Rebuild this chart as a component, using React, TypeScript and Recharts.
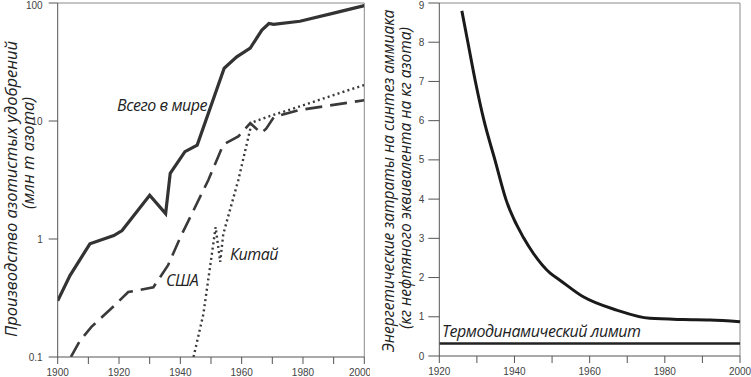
import { LineChart, Line, XAxis, YAxis, ReferenceLine } from 'recharts'

// Left panel: nitrogen fertilizer production, Mt N (log scale)
const WORLD_YEARS = [1900, 1904, 1910.5, 1918.3, 1921, 1930, 1935.2, 1936.7, 1941.5, 1945.5, 1954.3, 1958.4, 1962.8, 1966.6, 1968.9, 1970.4, 1979, 1990, 2000]
const WORLD_VALUES = [0.3, 0.49, 0.91, 1.07, 1.18, 2.35, 1.64, 3.6, 5.5, 6.25, 28, 35, 41.5, 59, 67, 66, 70, 82, 95]

const USA_YEARS = [1904.3, 1907.3, 1911, 1918.3, 1923, 1931.2, 1936, 1939.9, 1949.1, 1954, 1958.9, 1962.8, 1966.3, 1968, 1970.5, 1979, 2000]
const USA_VALUES = [0.1, 0.138, 0.18, 0.27, 0.355, 0.39, 0.6, 1.02, 3.15, 6.3, 7.4, 9.6, 7.9, 8.6, 10.8, 12.4, 15]

const CHINA_YEARS = [1944.3, 1947.5, 1950.3, 1951.5, 1953, 1954, 1958.9, 1963.3, 1968.7, 1979, 1990, 2000]
const CHINA_VALUES = [0.1, 0.23, 0.75, 1.26, 0.64, 1.1, 3.15, 9.7, 10.9, 13.3, 16.6, 20.2]

const LOG_TICKS = [0.1, 1, 10, 100]
const LEFT_YEAR_TICKS = [1900, 1910, 1920, 1930, 1940, 1950, 1960, 1970, 1980, 1990, 2000]

// Right panel: energy cost of ammonia synthesis, kg oil eq. per kg N
const ENERGY_YEARS = [1926, 1927.6, 1929.6, 1931.9, 1934.8, 1937.7, 1942.5, 1945, 1949.5, 1952, 1958.3, 1967.2, 1976, 1984.9, 1992, 2000]
const ENERGY_VALUES = [8.8, 8.0, 7.0, 6.0, 5.0, 4.0, 3.0, 2.62, 2.11, 1.94, 1.51, 1.17, 0.96, 0.93, 0.92, 0.875]
const LIMIT_VALUE = 0.32

const LINEAR_TICKS = [0, 1, 2, 3, 4, 5, 6, 7, 8, 9]
const RIGHT_YEAR_TICKS = [1920, 1930, 1940, 1950, 1960, 1970, 1980, 1990, 2000]

const toPoints = (years: number[], values: number[]) =>
  years.map((year, i) => ({ year, value: values[i] }))

const worldData = toPoints(WORLD_YEARS, WORLD_VALUES)
const usaData = toPoints(USA_YEARS, USA_VALUES)
const chinaData = toPoints(CHINA_YEARS, CHINA_VALUES)
const energyData = toPoints(ENERGY_YEARS, ENERGY_VALUES)

const TICK_STYLE = { fontSize: 10, fill: '#444', fontFamily: '"Liberation Sans", Arial, sans-serif' }
const AXIS_COLOR = '#555'
const FRAME_COLOR = '#8a8a8a'
const LABEL_FONT = '"Open Sans", "Noto Sans", sans-serif'

const everyOther = (v: number) => (v % 20 === 0 ? String(v) : '')

export default function App() {
  return (
    <div style={{ position: 'absolute', left: 0, top: 0, width: 751, height: 377, background: '#fff' }}>
      <div style={{ position: 'absolute', left: 0, top: 0 }}>
        <LineChart width={370} height={377} margin={{ top: 3, right: 5.7, left: 0, bottom: 0 }}>
          <XAxis
            dataKey="year"
            type="number"
            domain={[1900, 2000]}
            ticks={LEFT_YEAR_TICKS}
            tickFormatter={everyOther}
            tick={TICK_STYLE}
            tickSize={7}
            tickMargin={5}
            height={20}
            stroke={AXIS_COLOR}
            allowDataOverflow
          />
          <YAxis
            type="number"
            scale="log"
            domain={[0.1, 100]}
            ticks={LOG_TICKS}
            tick={TICK_STYLE}
            tickSize={9}
            tickMargin={6}
            width={57.7}
            stroke={AXIS_COLOR}
            allowDataOverflow
          />
          <ReferenceLine y={100} stroke={FRAME_COLOR} />
          <ReferenceLine x={2000} stroke={FRAME_COLOR} />
          <Line data={worldData} dataKey="value" type="linear" stroke="#333" strokeWidth={3.2} dot={false} isAnimationActive={false} />
          <Line data={usaData} dataKey="value" type="linear" stroke="#3a3a3a" strokeWidth={2.6} strokeDasharray="17 8" dot={false} isAnimationActive={false} />
          <Line data={chinaData} dataKey="value" type="linear" stroke="#3a3a3a" strokeWidth={2.4} strokeDasharray="2 3.2" dot={false} isAnimationActive={false} />
        </LineChart>
      </div>

      <div style={{ position: 'absolute', left: 370, top: 0 }}>
        <LineChart width={381} height={377} margin={{ top: 3, right: 11, left: 0, bottom: 0 }}>
          <XAxis
            dataKey="year"
            type="number"
            domain={[1920, 2000]}
            ticks={RIGHT_YEAR_TICKS}
            tickFormatter={everyOther}
            tick={TICK_STYLE}
            tickSize={7}
            tickMargin={5}
            height={21}
            stroke={AXIS_COLOR}
          />
          <YAxis
            type="number"
            domain={[0, 9]}
            ticks={LINEAR_TICKS}
            tick={TICK_STYLE}
            tickSize={11}
            tickMargin={4}
            width={69.3}
            stroke={AXIS_COLOR}
          />
          <ReferenceLine y={9} stroke={FRAME_COLOR} />
          <ReferenceLine x={2000} stroke={FRAME_COLOR} />
          <ReferenceLine y={LIMIT_VALUE} stroke="#222" strokeWidth={2.4} />
          <Line data={energyData} dataKey="value" type="monotone" stroke="#1a1a1a" strokeWidth={3} dot={false} isAnimationActive={false} />
        </LineChart>
      </div>

      {/* axis titles and series annotations */}
      <svg width={751} height={377} style={{ position: 'absolute', left: 0, top: 0, pointerEvents: 'none' }}>
        <g fontFamily={LABEL_FONT} fontStyle="italic" fill="#222" fontSize={16}>
          <text transform="translate(10,189) rotate(-90)" textAnchor="middle" dominantBaseline="central" fontSize={16.5}>
            Производство азотистых удобрений
          </text>
          <text transform="translate(27,153) rotate(-90)" textAnchor="middle" dominantBaseline="central" fontSize={16.5}>
            (млн т азота)
          </text>
          <text transform="translate(388,181) rotate(-90)" textAnchor="middle" dominantBaseline="central" fontSize={15.5}>
            Энергетические затраты на синтез аммиака
          </text>
          <text transform="translate(405,178) rotate(-90)" textAnchor="middle" dominantBaseline="central" fontSize={15.5}>
            (кг нефтяного эквивалента на кг азота)
          </text>
          <g letterSpacing={-0.45}>
            <text x={117} y={111}>Всего в мире</text>
            <text x={166} y={286}>США</text>
            <text x={230} y={260}>Китай</text>
            <text x={442} y={337}>Термодинамический лимит</text>
          </g>
        </g>
      </svg>
    </div>
  )
}
